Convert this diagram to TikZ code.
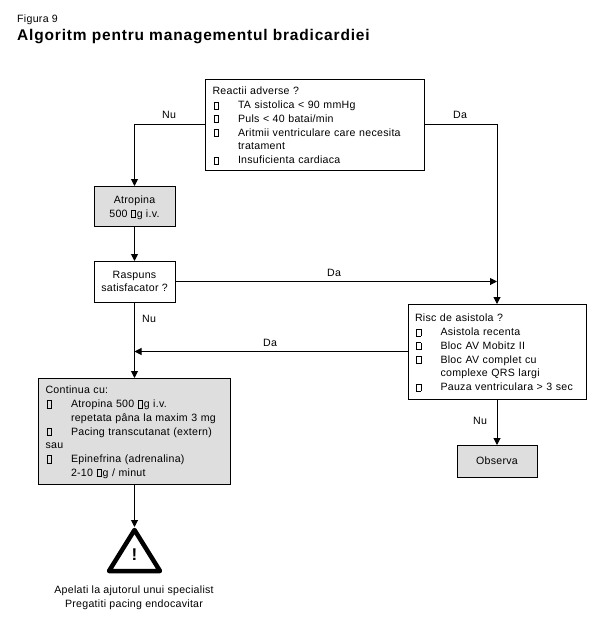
\documentclass[tikz,border=0pt]{standalone}
\usepackage{fontspec}
\setmainfont[LetterSpace=2.7]{Liberation Sans}
\usetikzlibrary{arrows.meta}
\newcommand{\tofu}{\begingroup\setlength{\fboxsep}{0pt}\setlength{\fboxrule}{0.8pt}\fbox{\rule{0pt}{6.4pt}\rule{3.8pt}{0pt}}\hspace{0.6pt}\endgroup}
\newcommand{\itm}[1]{\makebox[0pt][l]{\hspace{1pt}\tofu}\hspace*{25.5pt}#1}
\newcommand{\cnt}[1]{\hspace*{25.5pt}#1}
\newcommand{\firstln}{\rule{0pt}{10.5pt}}
\tikzset{
  basefont/.style={font=\fontsize{10.6}{13.75}\selectfont},
  box/.style={draw=black,line width=1pt,outer sep=0pt,inner sep=0pt,basefont,align=center},
  listbox/.style={box,align=left,inner xsep=7pt},
  shaded/.style={fill=black!13},
  link/.style={line width=1pt,-{Triangle[length=7pt,width=7pt]}},
  lbl/.style={basefont,inner sep=0pt}
}
\begin{document}
\begin{tikzpicture}[x=1pt,y=-1pt]
\useasboundingbox (0,0) rectangle (599,627);
\node[lbl,anchor=base west,font=\fontsize{10.6}{12}\selectfont] (fig) at (17,22) {Figura 9};
\node[lbl,anchor=base west,font=\fontsize{15.5}{16}\selectfont\bfseries\addfontfeature{LetterSpace=5.3}] (title) at (17,40) {Algoritm pentru managementul bradicardiei};

\node[listbox,minimum width=219pt,minimum height=91pt,text width=205pt] (react) at (315,124.5) {%
\firstln Reactii adverse ?\\
\itm{TA sistolica < 90 mmHg}\\
\itm{Puls < 40 batai/min}\\
\itm{Aritmii ventriculare care necesita}\\
\cnt{tratament}\\
\itm{Insuficienta cardiaca}};

\node[box,shaded,minimum width=81pt,minimum height=40pt] (atr) at (134.5,206) {\firstln Atropina\\500 \tofu g i.v.};
\node[box,minimum width=81pt,minimum height=41pt] (rasp) at (134.5,281.5) {Raspuns\\satisfacator ?};

\node[listbox,minimum width=178pt,minimum height=95pt,text width=164pt] (risc) at (497,351.5) {%
\firstln Risc de asistola ?\\
\itm{Asistola recenta}\\
\itm{Bloc AV Mobitz II}\\
\itm{Bloc AV complet cu}\\
\cnt{complexe QRS largi}\\
\itm{Pauza ventriculara > 3 sec}};

\node[box,shaded,minimum width=80pt,minimum height=32pt] (obs) at (497,461) {Observa};

\node[listbox,shaded,minimum width=192pt,minimum height=106pt,text width=178pt] (cont) at (134.5,431) {%
\firstln Continua cu:\\
\itm{Atropina 500 \tofu g i.v.}\\
\cnt{repetata pâna la maxim 3 mg}\\
\itm{Pacing transcutanat (extern)}\\
sau\\
\itm{Epinefrina (adrenalina)}\\
\cnt{2-10 \tofu g / minut}};

\coordinate (apex) at (134.5,530);
\coordinate (arrive) at (134.5,527);
\coordinate (bl) at (109,571);
\coordinate (br) at (160,571);
\draw[line width=4.5pt,line join=round] (apex) -- (bl) -- (br) -- cycle;
\node[inner sep=0pt,font=\fontsize{17}{17}\selectfont\bfseries] (excl) at (134.5,555) {!};
\node[lbl,align=center] (help) at (134,596) {\firstln Apelati la ajutorul unui specialist\\Pregatiti pacing endocavitar};

\draw[link] (react.west) -| (atr.north);
\draw[link] (react.east) -| (risc.north);
\draw[link] (atr.south) -- (rasp.north);
\draw[link] (rasp.east) -- (rasp.east -| risc.north);
\draw[link] (rasp.south) -- (cont.north);
\draw[link] (risc.west) -- (risc.west -| rasp.south);
\draw[link] (risc.south) -- (obs.north);
\draw[link] (cont.south) -- (arrive);

\node[lbl] (l1) at (169,115) {Nu};
\node[lbl] (l2) at (460,115) {Da};
\node[lbl] (l3) at (334,273) {Da};
\node[lbl] (l4) at (149,319) {Nu};
\node[lbl] (l5) at (270,343) {Da};
\node[lbl] (l6) at (480,421) {Nu};
\end{tikzpicture}
\end{document}
